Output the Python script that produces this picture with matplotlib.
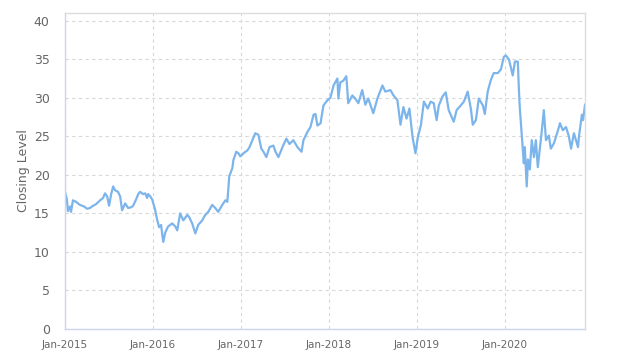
import matplotlib
matplotlib.use("Agg")
import matplotlib.pyplot as plt
import pandas as pd

dates = [
    "2015-01-01", "2015-01-09", "2015-01-13", "2015-01-22", "2015-01-26", "2015-02-03", "2015-02-16",
    "2015-03-04", "2015-03-21", "2015-04-03", "2015-04-15", "2015-04-23", "2015-05-10", "2015-05-27",
    "2015-06-08", "2015-06-16", "2015-06-25", "2015-07-03", "2015-07-11", "2015-07-20", "2015-07-28",
    "2015-08-09", "2015-08-18", "2015-08-26", "2015-09-08", "2015-09-20", "2015-10-03", "2015-10-11",
    "2015-10-23", "2015-11-01", "2015-11-09", "2015-11-21", "2015-11-30", "2015-12-08", "2015-12-12",
    "2015-12-21", "2015-12-29",
    "2016-01-10", "2016-01-19", "2016-01-27", "2016-02-04", "2016-02-09", "2016-02-13", "2016-02-21",
    "2016-03-04", "2016-03-21", "2016-04-03", "2016-04-11", "2016-04-23", "2016-05-06", "2016-05-23",
    "2016-05-31", "2016-06-12", "2016-06-25", "2016-07-07", "2016-07-24", "2016-08-05", "2016-08-18",
    "2016-09-03", "2016-09-16", "2016-09-28", "2016-10-15", "2016-10-28", "2016-11-05", "2016-11-13",
    "2016-11-26", "2016-11-30", "2016-12-12", "2016-12-21", "2016-12-29",
    "2017-01-11", "2017-01-28", "2017-02-05", "2017-02-17", "2017-03-01", "2017-03-14", "2017-03-26",
    "2017-04-04", "2017-04-16", "2017-04-29", "2017-05-15", "2017-05-24", "2017-06-05", "2017-06-22",
    "2017-07-08", "2017-07-21", "2017-08-06", "2017-08-23", "2017-09-09", "2017-09-17", "2017-10-04",
    "2017-10-16", "2017-10-29", "2017-11-06", "2017-11-14", "2017-11-27", "2017-12-09", "2017-12-26",
    "2018-01-07", "2018-01-20", "2018-02-05", "2018-02-09", "2018-02-17", "2018-03-01", "2018-03-14",
    "2018-03-22", "2018-04-08", "2018-04-20", "2018-05-03", "2018-05-19", "2018-06-01", "2018-06-13",
    "2018-07-04", "2018-07-21", "2018-08-11", "2018-08-23", "2018-09-13", "2018-09-26", "2018-10-12",
    "2018-10-25", "2018-11-06", "2018-11-19", "2018-12-01", "2018-12-14", "2018-12-26",
    "2019-01-05", "2019-01-18", "2019-01-22", "2019-01-30", "2019-02-15", "2019-02-27", "2019-03-12",
    "2019-03-24", "2019-04-02", "2019-04-18", "2019-05-01", "2019-05-13", "2019-06-03", "2019-06-15",
    "2019-07-02", "2019-07-15", "2019-07-31", "2019-08-13", "2019-08-21", "2019-09-03", "2019-09-15",
    "2019-10-02", "2019-10-10", "2019-10-22", "2019-11-04", "2019-11-16", "2019-12-03", "2019-12-16",
    "2019-12-28",
    "2020-01-05", "2020-01-18", "2020-02-03", "2020-02-12", "2020-02-24", "2020-02-28", "2020-03-03",
    "2020-03-07", "2020-03-16", "2020-03-20", "2020-03-24", "2020-04-01", "2020-04-06", "2020-04-14",
    "2020-04-22", "2020-05-01", "2020-05-09", "2020-05-17", "2020-05-26", "2020-06-03", "2020-06-11",
    "2020-06-20", "2020-07-02", "2020-07-10", "2020-07-23", "2020-08-09", "2020-08-17", "2020-08-29",
    "2020-09-11", "2020-09-23", "2020-10-02", "2020-10-14", "2020-10-31", "2020-11-04", "2020-11-16",
    "2020-11-21", "2020-11-29",
]

closing = [
    17.8, 16.8, 15.3, 15.9, 15.2, 16.7, 16.5,
    16.1, 15.9, 15.6, 15.7, 15.9, 16.2, 16.7,
    17.0, 17.6, 17.2, 16.0, 17.4, 18.5, 18.0,
    17.8, 17.2, 15.4, 16.3, 15.7, 15.8, 16.0,
    16.8, 17.5, 17.8, 17.5, 17.6, 17.0, 17.5,
    17.2, 16.8,
    15.5, 14.1, 13.2, 13.5, 12.2, 11.3, 12.5,
    13.3, 13.7, 13.3, 12.8, 15.0, 14.1, 14.8,
    14.5, 13.7, 12.4, 13.5, 14.1, 14.8, 15.2,
    16.1, 15.7, 15.2, 16.1, 16.7, 16.5, 19.8,
    20.9, 21.9, 23.0, 22.8, 22.4,
    22.8, 23.2, 23.6, 24.5, 25.4, 25.2, 23.4,
    23.0, 22.3, 23.6, 23.8, 23.0, 22.3, 23.6,
    24.7, 24.0, 24.5, 23.6, 23.0, 24.5, 25.6,
    26.2, 27.8, 27.9, 26.4, 26.7, 29.0, 29.7,
    30.0, 31.6, 32.5, 29.9, 32.0, 32.2, 32.8,
    29.3, 30.3, 29.9, 29.3, 31.0, 29.1, 29.9,
    28.0, 29.9, 31.6, 30.8, 31.0, 30.3, 29.7,
    26.5, 28.8, 27.3, 28.6, 24.9, 22.8,
    24.9, 26.5, 27.5, 29.5, 28.6, 29.5, 29.3,
    27.1, 29.0, 30.2, 30.7, 28.4, 26.9, 28.4,
    29.0, 29.5, 30.8, 28.6, 26.5, 27.1, 29.9,
    29.0, 27.9, 30.8, 32.3, 33.2, 33.2, 33.7,
    35.3,
    35.5, 35.0, 32.9, 34.7, 34.7, 31.5, 28.8,
    27.1, 23.2, 21.5, 23.6, 18.5, 22.0, 20.7,
    24.5, 22.3, 24.5, 21.0, 23.6, 25.8, 28.4,
    24.5, 25.1, 23.4, 24.1, 25.8, 26.7, 25.8,
    26.2, 25.0, 23.4, 25.4, 23.6, 25.0, 27.8,
    27.1, 29.1,
]

y_ticks = [0, 5, 10, 15, 20, 25, 30, 35, 40]
x_tick_dates = ["2015-01-01", "2016-01-01", "2017-01-01", "2018-01-01", "2019-01-01", "2020-01-01"]
x_tick_labels = ["Jan-2015", "Jan-2016", "Jan-2017", "Jan-2018", "Jan-2019", "Jan-2020"]

x = pd.to_datetime(dates)
x_ticks = pd.to_datetime(x_tick_dates)

fig = plt.figure(figsize=(6.24, 3.62), dpi=100)
ax = fig.add_axes([65/624, 1 - 329/362, 520/624, 316/362])

ax.plot(x, closing, color="#7cb5ec", linewidth=1.6, solid_joinstyle="round")

ax.set_xlim(x[0], x[-1])
ax.set_ylim(0, 41)
ax.set_yticks(y_ticks)
ax.set_xticks(x_ticks)
ax.set_xticklabels(x_tick_labels)

ax.grid(True, color="#d8d8d8", linestyle=(0, (3, 3)), linewidth=0.8)
ax.set_axisbelow(True)

for side in ["top", "right"]:
    ax.spines[side].set_color("#dddddd")
    ax.spines[side].set_linewidth(1.0)
for side in ["left", "bottom"]:
    ax.spines[side].set_color("#ccd6eb")
    ax.spines[side].set_linewidth(1.0)

ax.tick_params(axis="y", length=0, pad=11, labelsize=9, labelcolor="#666666")
ax.tick_params(axis="x", length=0, pad=8, labelsize=7.5, labelcolor="#666666")

ax.set_ylabel("Closing Level", fontsize=9, color="#666666", labelpad=3)

fig.savefig("out.png", dpi=100)
